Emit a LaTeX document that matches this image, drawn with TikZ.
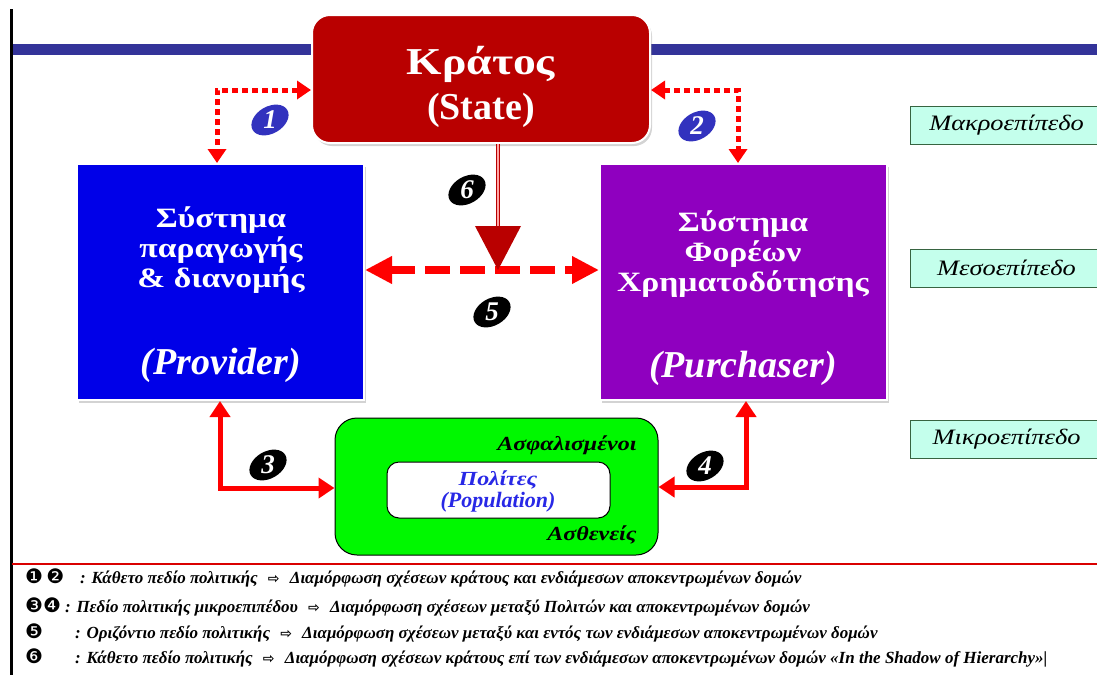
\documentclass[tikz,border=0pt]{standalone}
\usepackage{fontspec}
\setmainfont{Liberation Serif}
\newfontfamily\grfont[FakeStretch=1.2]{Liberation Serif}
\newfontfamily\symfont{DejaVu Sans}
\usetikzlibrary{arrows.meta,shapes.geometric,shadows}

\definecolor{statered}{RGB}{185,0,0}
\definecolor{provblue}{RGB}{0,0,232}
\definecolor{purchviolet}{RGB}{143,0,191}
\definecolor{barblue}{RGB}{51,51,153}
\definecolor{levelmint}{RGB}{196,255,236}
\definecolor{levelgreen}{RGB}{55,100,65}
\definecolor{popgreen}{RGB}{0,248,0}
\definecolor{popblue}{RGB}{40,40,230}
\definecolor{numblue}{RGB}{50,50,190}

\newcommand{\legarrow}{\hspace{0.6em}{\symfont\fontsize{14}{14}\selectfont ⇨}\hspace{0.6em}}

\begin{document}
\begin{tikzpicture}[x=1pt,y=-1pt,
    mainbox/.style={draw=white,line width=2pt,inner sep=0pt,
      drop shadow={opacity=0.35,shadow xshift=2pt,shadow yshift=-3pt}},
    boxtext/.style={text=white,align=center,font=\grfont\fontsize{28}{30}\selectfont\bfseries},
    roletext/.style={text=white,font=\fontsize{38}{40}\selectfont\bfseries\itshape},
    levelbox/.style={draw=levelgreen,line width=1pt,fill=levelmint,anchor=west,
      minimum width=192pt,minimum height=38pt,font=\grfont\fontsize{22}{24}\selectfont\itshape},
    badge/.style={ellipse,rotate=30,minimum width=40pt,minimum height=27pt,inner sep=0pt},
    badgenum/.style={text=white,font=\fontsize{27}{27}\selectfont\bfseries\itshape},
    dotarrow/.style={red,line width=5pt,dash pattern=on 6pt off 4pt,
      {Triangle[length=14pt,width=18pt]}-{Triangle[length=14pt,width=18pt]}},
    dasharrow/.style={red,line width=8pt,dash pattern=on 25pt off 10pt,
      {Triangle[length=27pt,width=26pt]}-{Triangle[length=27pt,width=26pt]}},
    solidarrow/.style={red,line width=5pt,
      {Triangle[length=16pt,width=20pt]}-{Triangle[length=16pt,width=20pt]}},
    poptext/.style={font=\grfont\fontsize{20}{22}\selectfont\bfseries\itshape},
    legbadge/.style={anchor=base west,inner sep=0pt,font=\symfont\fontsize{20}{20}\selectfont},
    legtext/.style={anchor=base west,inner sep=0pt,font=\fontsize{17}{19}\selectfont\bfseries\itshape},
  ]
  \clip (0,0) rectangle (1097,675);
  % frame lines
  \draw[barblue,line width=11pt] (12,49) -- (1097,49);
  \draw[line width=3pt] (11.5,9) -- (11.5,675);
  \draw[red!85!black,line width=1.2pt] (12,564) -- (1097,564);

  % boxes
  \node[mainbox,fill=statered,rounded corners=18pt,minimum width=338pt,minimum height=128pt] (state) at (481,79) {};
  \node[text=white,align=center,font=\fontsize{38}{45}\selectfont\bfseries] (statetxt) at (481,87) {{\grfont Κράτος}\\(State)};
  \node[mainbox,fill=provblue,minimum width=287pt,minimum height=236pt] (prov) at (220.5,282) {};
  \node[boxtext] (provtxt) at (221,250) {Σύστημα\\παραγωγής\\\& διανομής};
  \node[roletext] (provrole) at (221,365) {(Provider)};
  \node[mainbox,fill=purchviolet,minimum width=287pt,minimum height=236pt] (purch) at (743.5,282) {};
  \node[boxtext] (purchtxt) at (743,254) {Σύστημα\\Φορέων\\Χρηματοδότησης};
  \node[roletext] (purchrole) at (743,368) {(Purchaser)};

  \node[draw=black,line width=1pt,fill=popgreen,rounded corners=22pt,minimum width=323pt,minimum height=137pt] (popout) at (496.5,486.5) {};
  \node[draw=black,line width=1pt,fill=white,rounded corners=12pt,minimum width=223pt,minimum height=56pt] (popin) at (498.5,490) {};
  \node[poptext,text=popblue,align=center] (poptxt) at (498,491) {Πολίτες\\{\rmfamily\fontsize{22}{22}\selectfont(Population)}};
  \node[poptext,anchor=base east] (insured) at (640,450) {Ασφαλισμένοι};
  \node[poptext,anchor=base east] (patients) at (640,540) {Ασθενείς};

  % levels
  \node[levelbox] (macro) at (910,125) {Μακροεπίπεδο};
  \node[levelbox] (meso) at (910,268) {Μεσοεπίπεδο};
  \node[levelbox] (micro) at (910,439) {Μικροεπίπεδο};

  % connectors
  \coordinate (k1) at (217,90);
  \coordinate (k2) at (738,90);
  \coordinate (k3) at (220,488);
  \coordinate (k4) at (746,487);
  \coordinate (k5) at (498,270);
  \draw[dotarrow] (state.west |- k1) -| (prov.north -| k1);
  \draw[dotarrow] (state.east |- k2) -| (purch.north -| k2);
  \draw[dasharrow] (prov.east |- k5) -- (purch.west |- k5);
  \draw[statered,line width=1.2pt,double=red!35,double distance=2.5pt,shorten >=40pt] (state.south -| k5) -- (k5);
  \fill[statered] (k5) -- ++(-23,-44) -- ++(46,0) -- cycle;
  \draw[solidarrow] (prov.south -| k3) |- (popout.west |- k3);
  \draw[solidarrow] (purch.south -| k4) |- (popout.east |- k4);

  \foreach \n/\x/\y/\c in {1/270/120/numblue,2/697/126/numblue,3/268/465/black,4/705/466/black,5/492/312/black,6/467/190/black} {
    \node[badge,fill=\c] (b\n) at (\x,\y) {};
    \node[badgenum] (n\n) at (b\n) {\n};
  }

  % legend
  \foreach \i/\y/\b/\x/\t in {
      1/583/{❶\,❷}/80/{: Κάθετο πεδίο πολιτικής\legarrow Διαμόρφωση σχέσεων κράτους και ενδιάμεσων αποκεντρωμένων δομών},
      2/612/{❸❹}/65/{: Πεδίο πολιτικής μικροεπιπέδου\legarrow Διαμόρφωση σχέσεων μεταξύ Πολιτών και αποκεντρωμένων δομών},
      3/638/{❺}/75/{: Οριζόντιο πεδίο πολιτικής\legarrow Διαμόρφωση σχέσεων μεταξύ και εντός των ενδιάμεσων αποκεντρωμένων δομών},
      4/663/{❻}/75/{: Κάθετο πεδίο πολιτικής\legarrow Διαμόρφωση σχέσεων κράτους επί των ενδιάμεσων αποκεντρωμένων δομών «In the Shadow of Hierarchy»|}} {
    \node[legbadge] (lb\i) at (25,\y) {\b};
    \node[legtext] (lt\i) at (\x,\y) {\t};
  }
\end{tikzpicture}
\end{document}
